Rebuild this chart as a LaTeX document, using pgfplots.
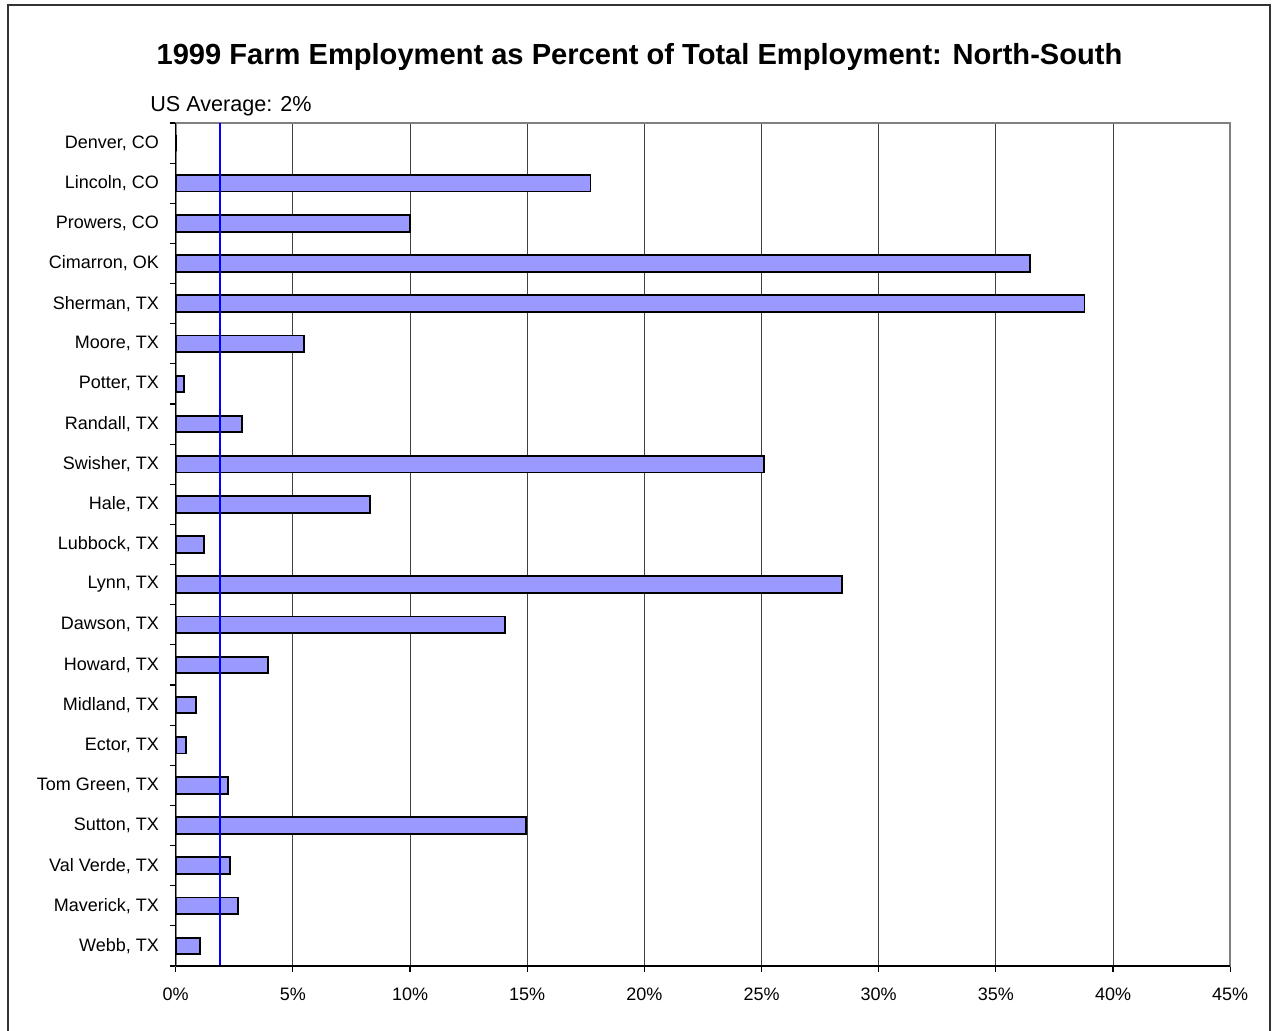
\documentclass[border=0pt]{standalone}
\usepackage{fontspec}
\setmainfont{Liberation Sans}
\usepackage{pgfplots}
\pgfplotsset{compat=1.18}
\definecolor{barfill}{RGB}{153,153,255}
\begin{document}
\begin{tikzpicture}
\useasboundingbox (0,0) rectangle (638pt,-515pt);
\draw[black!80, line width=1pt] (4pt,-530pt) -- (4pt,-2.5pt) -- (635pt,-2.5pt) -- (635pt,-530pt);
\node[font=\fontsize{14.55pt}{17pt}\selectfont\bfseries] at (319.75pt,-28.3pt) {1999 Farm Employment as Percent of Total Employment: North-South};
\node[anchor=west, inner sep=0pt, font=\fontsize{10.8pt}{13pt}\selectfont] at (75pt,-53pt) {US Average: 2\%};
\begin{axis}[
  at={(87.85pt,-61.5pt)}, anchor=north west,
  scale only axis, width=527.25pt, height=421.5pt,
  xmin=0, xmax=45, ymin=-0.5, ymax=20.5, y dir=reverse,
  xtick={0,5,...,45},
  xticklabel={\pgfmathprintnumber{\tick}\%},
  /pgf/number format/assume math mode=true,
  ytick={0,...,20},
  yticklabels={{Denver, CO},{Lincoln, CO},{Prowers, CO},{Cimarron, OK},{Sherman, TX},{Moore, TX},{Potter, TX},{Randall, TX},{Swisher, TX},{Hale, TX},{Lubbock, TX},{Lynn, TX},{Dawson, TX},{Howard, TX},{Midland, TX},{Ector, TX},{Tom Green, TX},{Sutton, TX},{Val Verde, TX},{Maverick, TX},{Webb, TX}},
  minor ytick={-0.5,0.5,...,20.5},
  tick align=outside,
  major tick length=3pt, minor tick length=3pt,
  major y tick style={draw=none},
  minor y tick style={black, line width=0.6pt},
  major x tick style={black, line width=0.6pt},
  xtick pos=bottom, ytick pos=left,
  xmajorgrids,
  major x grid style={black!75, line width=0.5pt},
  axis line style={black!50, line width=1pt},
  tick label style={font=\fontsize{9pt}{11pt}\selectfont},
  yticklabel style={anchor=east, inner sep=0pt, xshift=-5.2pt},
  xticklabel style={anchor=north, inner sep=0pt, yshift=-8pt},
  clip=false,
  after end axis/.code={
    \draw[black, line width=0.8pt] (rel axis cs:0,0) -- (rel axis cs:0,1);
    \draw[black, line width=0.8pt] (rel axis cs:0,0) -- (rel axis cs:1,0);
  },
]
\addplot[xbar, bar width=8.3pt, fill=barfill, draw=black, line width=0.9pt] coordinates {
(0,0) (17.70,1) (10.0,2) (36.46,3) (38.78,4) (5.48,5) (0.35,6) (2.83,7) (25.12,8) (8.29,9)
(1.21,10) (28.45,11) (14.04,12) (3.95,13) (0.87,14) (0.44,15) (2.22,16) (14.95,17) (2.32,18) (2.66,19) (1.05,20)
};
\addplot[blue, line width=1pt] coordinates {(1.9,-0.5) (1.9,20.5)};
\end{axis}
\end{tikzpicture}
\end{document}
